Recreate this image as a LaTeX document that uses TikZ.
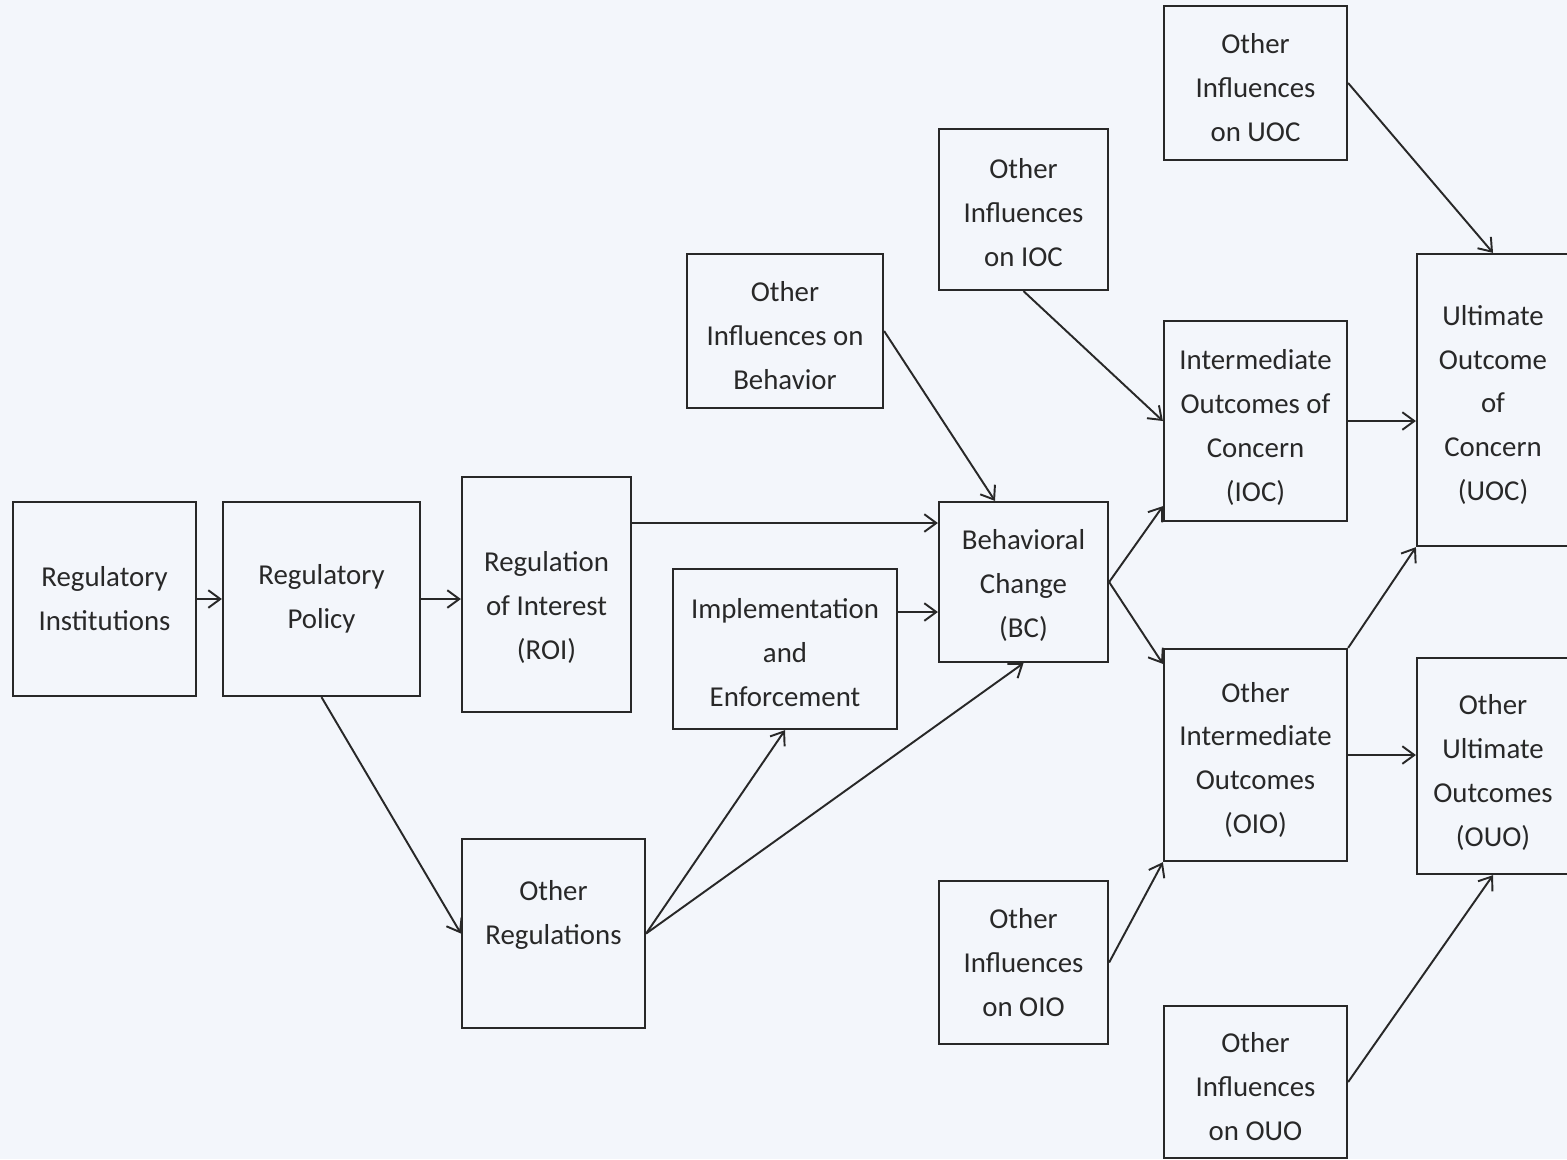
\documentclass[tikz,border=0pt]{standalone}
\usepackage{fontspec}
\setmainfont{Carlito}
\usepackage{xcolor}
\usepackage{tikz}
\usetikzlibrary{arrows.meta,calc,positioning}
\definecolor{paper}{RGB}{243,246,251}
\definecolor{ink}{RGB}{40,40,40}
\newcommand{\sinkby}[1]{\rule{0pt}{#1}}

\begin{document}
\begin{tikzpicture}[x=0.01cm, y=-0.01cm,
	box/.style={draw=ink, line width=0.6pt, align=center, text=ink, inner sep=0pt,
		font=\fontsize{8.2}{12.5}\selectfont},
	rise/.style={execute at end node={\rule[-#1]{0pt}{#1}}},
	conn/.style={draw=ink, line width=0.55pt, -{Straight Barb[length=3.4pt,width=5pt]}}]
	% Background
	\fill[paper] (0,0) rectangle (1567,1159);
	\useasboundingbox (0,0) rectangle (1567,1159);
	\clip (0,0) rectangle (1567,1159);
	% Boxes, left to right
	\node[box, minimum width=1.83cm, minimum height=1.94cm] at (104.5,599) (inst) {Regulatory\\Institutions};
	\node[box, minimum width=1.97cm, minimum height=1.94cm] at (321.5,599) (policy) {Regulatory\\Policy};
	\node[box, minimum width=1.69cm, minimum height=2.35cm] at (546.5,594.5) (roi) {\sinkby{13.3pt}Regulation\\of Interest\\(ROI)};
	\node[box, rise=12pt, minimum width=1.83cm, minimum height=1.89cm] at (553.5,933.5) (oreg) {Other\\Regulations};
	\node[box, minimum width=2.24cm, minimum height=1.60cm] at (785,649) (impl) {\sinkby{7.6pt}Implementation\\and\\Enforcement};
	\node[box, minimum width=1.96cm, minimum height=1.54cm] at (785,331) (oib) {\sinkby{8.5pt}Other\\Influences on\\Behavior};
	\node[box, minimum width=1.69cm, minimum height=1.60cm] at (1023.5,582) (bc) {\sinkby{7.6pt}Behavioral\\Change\\(BC)};
	\node[box, minimum width=1.69cm, minimum height=1.61cm] at (1023.5,209.5) (oiioc) {\sinkby{7.6pt}Other\\Influences\\on IOC};
	\node[box, minimum width=1.69cm, minimum height=1.63cm] at (1023.5,962.5) (oioio) {Other\\Influences\\on OIO};
	\node[box, minimum width=1.83cm, minimum height=1.54cm] at (1255.5,83) (oiuoc) {\sinkby{8.5pt}Other\\Influences\\on UOC};
	\node[box, minimum width=1.83cm, minimum height=2.00cm] at (1255.5,421) (ioc) {\sinkby{9.3pt}Intermediate\\Outcomes of\\Concern\\(IOC)};
	\node[box, minimum width=1.83cm, minimum height=2.12cm] at (1255.5,755) (oio) {\sinkby{8.5pt}Other\\Intermediate\\Outcomes\\(OIO)};
	\node[box, minimum width=1.83cm, minimum height=1.52cm] at (1255.5,1082) (oiouo) {\sinkby{8.5pt}Other\\Influences\\on OUO};
	\node[box, minimum width=1.52cm, minimum height=2.92cm] at (1493,400) (uoc) {\sinkby{8.5pt}Ultimate\\Outcome\\of\\Concern\\(UOC)};
	\node[box, minimum width=1.52cm, minimum height=2.16cm] at (1493,766) (ouo) {\sinkby{9.3pt}Other\\Ultimate\\Outcomes\\(OUO)};
	% Connectors
	\draw[conn] (inst.east) -- (policy.west);
	\draw[conn] (policy.east) -- (policy.east -| roi.west);
	\coordinate (roiout) at ($(roi.east)+(0,-71.5)$);
	\draw[conn] (roiout) -- (roiout -| bc.west);
	\coordinate (implout) at ($(impl.east)+(0,-37)$);
	\draw[conn] (implout) -- (implout -| bc.west);
	\draw[conn] (oib.east) -- ($(bc.north)+(-28.5,0)$);
	\draw[conn] (policy.south) -- (oreg.west);
	\draw[conn] (oreg.east) -- (impl.south);
	\draw[conn] (oreg.east) -- (bc.south);
	\draw[conn] (oiioc.south) -- (ioc.west);
	\draw[conn] (bc.east) -- ($(ioc.south west)+(0,-16)$);
	\draw[conn] (bc.east) -- ($(oio.north west)+(0,16)$);
	\draw[conn] (oioio.east) -- (oio.south west);
	\draw[conn] (oiuoc.east) -- (uoc.north);
	\draw[conn] (ioc.east) -- (ioc.east -| uoc.west);
	\draw[conn] (oio.north east) -- (uoc.south west);
	\draw[conn] (oio.east) -- (oio.east -| ouo.west);
	\draw[conn] (oiouo.east) -- (ouo.south);
\end{tikzpicture}
\end{document}
